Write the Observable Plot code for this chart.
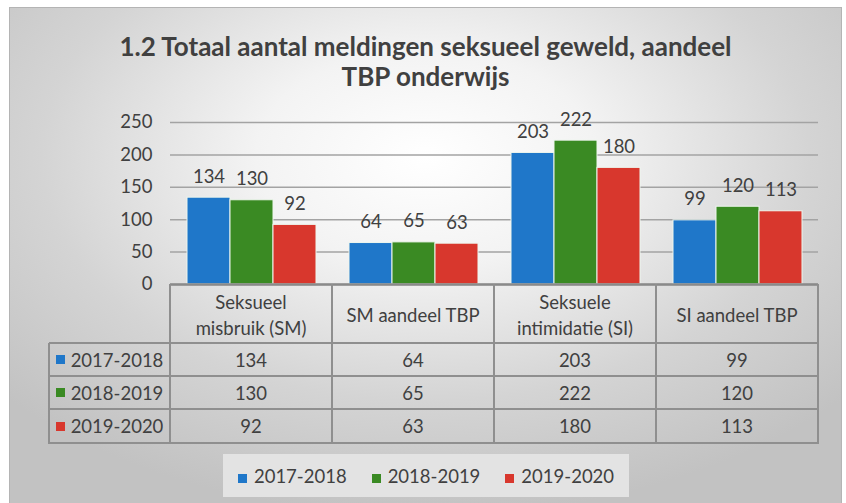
<!DOCTYPE html>
<html><head><meta charset="utf-8">
<script src="https://cdn.jsdelivr.net/npm/d3@7"></script>
<script src="https://cdn.jsdelivr.net/npm/@observablehq/plot@0.6"></script>
<style>
body{margin:0;background:#fff;}
#wrap{position:relative;width:846px;height:503px;overflow:hidden;font-family:Lato,"Open Sans",sans-serif;color:#404040;}
#frame{position:absolute;left:9px;top:7px;width:833px;height:500px;box-sizing:border-box;border:1px solid #b4b4b4;
 background:radial-gradient(ellipse 68% 72% at 50% 30%, #ffffff 0%, #f3f3f3 30%, #d4d4d4 68%, #c2c2c2 100%);}
#title{position:absolute;left:9px;width:833px;top:31px;text-align:center;font-weight:700;font-size:26px;line-height:30px;color:#404040;}
#chart{position:absolute;left:0;top:0;}
.hl{position:absolute;height:2px;background:#8f8f8f;}
.vl{position:absolute;width:2px;background:#8f8f8f;}
.cell{position:absolute;display:flex;align-items:center;justify-content:center;text-align:center;font-size:18.5px;line-height:26px;color:#404040;}
.sw{display:inline-block;width:9px;height:9px;margin-right:6px;}
#legend{position:absolute;left:223px;top:454px;width:406px;height:43px;background:#e3e3e3;display:flex;align-items:center;justify-content:center;gap:25px;font-size:18.5px;}
#legend .sw{margin-right:7px;}
</style></head>
<body>
<div id="wrap">
 <div id="frame"></div>
 <div id="title">1.2 Totaal aantal meldingen seksueel geweld, aandeel<br>TBP onderwijs</div>
 <div id="chart"></div>
 <div id="table"></div>
 <div id="legend"></div>
</div>
<script>
const categories = ["Seksueel misbruik (SM)", "SM aandeel TBP", "Seksuele intimidatie (SI)", "SI aandeel TBP"];
const headerLines = [["Seksueel", "misbruik (SM)"], ["SM aandeel TBP"], ["Seksuele", "intimidatie (SI)"], ["SI aandeel TBP"]];
const years = ["2017-2018", "2018-2019", "2019-2020"];
const values2017 = [134, 64, 203, 99];
const values2018 = [130, 65, 222, 120];
const values2019 = [92, 63, 180, 113];
const colors = ["#1f77c9", "#3a8a23", "#d8372d"];
const yTicks = [0, 50, 100, 150, 200, 250];

const series = [values2017, values2018, values2019];
const data = [];
categories.forEach((c, i) => years.forEach((y, j) => data.push({cat: c, year: y, value: series[j][i]})));

const W = 846, ML = 170, MR = 28;
const chart = Plot.plot({
  width: W, height: 292, marginTop: 122, marginBottom: 8, marginLeft: ML, marginRight: MR,
  style: {background: "transparent", fontFamily: "Lato, 'Open Sans', sans-serif", fontSize: "18.5px", color: "#404040", overflow: "visible"},
  fx: {domain: categories, padding: 0, axis: null, label: null},
  x: {domain: years, axis: null, paddingInner: 0, paddingOuter: 0.36},
  y: {domain: [0, 250], ticks: yTicks, tickSize: 0, tickPadding: 18, label: null},
  color: {domain: years, range: colors},
  marks: [
    Plot.gridY(yTicks, {stroke: "#a3a3a3", strokeOpacity: 1, strokeWidth: 1.5}),
    Plot.barY(data, {fx: "cat", x: "year", y: "value", fill: "year", stroke: "#eef6ee", strokeWidth: 1}),
    Plot.ruleY([0], {stroke: "#8a8a8a", strokeWidth: 2.5}),
    Plot.text(data, {fx: "cat", x: "year", y: "value", text: d => String(d.value), dy: -21, fill: "#404040", fontSize: 18.5})
  ]
});
document.getElementById("chart").appendChild(chart);

let colX;
try {
  const fxs = chart.scale("fx");
  const bw = fxs.bandwidth;
  colX = categories.map(c => fxs.apply(c));
  colX.push(colX[colX.length - 1] + bw);
} catch (e) {
  const step = (W - ML - MR) / categories.length;
  colX = categories.map((c, i) => ML + i * step);
  colX.push(W - MR);
}
const tbl = document.getElementById("table");
const axisY = 284, headBottom = 343, rowY = [343, 376, 409, 443], labelLeft = 49;
function add(cls, style, html) {
  const d = document.createElement("div");
  d.className = cls;
  Object.assign(d.style, style);
  if (html != null) d.innerHTML = html;
  tbl.appendChild(d);
}
colX.forEach(x => add("vl", {left: (x - 1) + "px", top: axisY + "px", height: (rowY[3] - axisY + 1) + "px"}));
add("vl", {left: (labelLeft - 1) + "px", top: rowY[0] + "px", height: (rowY[3] - rowY[0] + 1) + "px"});
rowY.forEach(y => add("hl", {left: labelLeft + "px", top: (y - 1) + "px", width: (colX[colX.length - 1] - labelLeft + 1) + "px"}));
headerLines.forEach((lines, i) => add("cell", {left: colX[i] + "px", top: (axisY + 1) + "px", width: (colX[i + 1] - colX[i]) + "px", height: (headBottom - axisY) + "px"}, lines.join("<br>")));
years.forEach((y, j) => {
  add("cell", {left: labelLeft + "px", top: rowY[j] + "px", width: (ML - labelLeft) + "px", height: (rowY[j + 1] - rowY[j]) + "px"},
    `<span class="sw" style="background:${colors[j]}"></span>${y}`);
  categories.forEach((c, i) => add("cell", {left: colX[i] + "px", top: rowY[j] + "px", width: (colX[i + 1] - colX[i]) + "px", height: (rowY[j + 1] - rowY[j]) + "px"}, String(series[j][i])));
});
const lg = document.getElementById("legend");
years.forEach((y, j) => {
  const s = document.createElement("span");
  s.innerHTML = `<span class="sw" style="background:${colors[j]}"></span>${y}`;
  lg.appendChild(s);
});
</script>
</body></html>
